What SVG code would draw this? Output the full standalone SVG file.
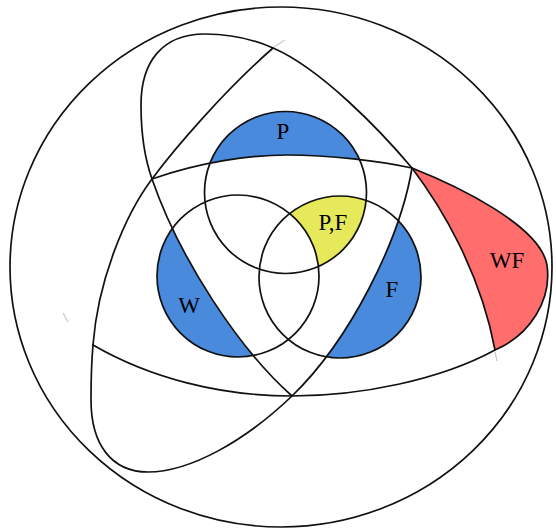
<svg xmlns="http://www.w3.org/2000/svg" width="556" height="528" viewBox="0 0 556 528">
<style>
.ln{fill:none;stroke:#111;stroke-width:1.7;stroke-linejoin:round;stroke-linecap:round}
.tick{fill:none;stroke:#c8c8c8;stroke-width:1.2}
.blue{fill:#4a8adc}
.lbl{font-family:"Liberation Serif","Times New Roman",serif;font-size:23px;fill:#000;text-anchor:middle}
</style>
<defs>
<clipPath id="abovePath"><path d="M100,185 L152,179 C200,162 250,155 287,155 C330,155 380,161 412,168 L440,0 L100,0 Z"/></clipPath>
<clipPath id="leftDiag"><path d="M292,396 C240,350 180,260 152,179 L100,100 L0,100 L0,500 L292,500 Z"/></clipPath>
<clipPath id="rightLine"><path d="M412,168 C400,240 350,340 292,396 L292,500 L556,500 L556,100 L412,100 Z"/></clipPath>
</defs>
<rect width="556" height="528" fill="#fff"/>
<g id="region-P"><circle class="blue" cx="285.5" cy="192.5" r="81" clip-path="url(#abovePath)"/><text class="lbl" x="283" y="139">P</text></g>
<g id="region-W"><circle class="blue" cx="238" cy="276" r="81" clip-path="url(#leftDiag)"/><text class="lbl" x="189" y="313">W</text></g>
<g id="region-F"><circle class="blue" cx="340" cy="277" r="81" clip-path="url(#rightLine)"/><text class="lbl" x="392" y="297">F</text></g>
<g id="region-PF"><path fill="#e6e95a" d="M289.6,213.6 A81,81 0 0,1 366.2,200.3 A81,81 0 0,1 318.4,266.5 A81,81 0 0,0 289.6,213.6 Z"/><text class="lbl" x="333" y="230">P,F</text></g>
<g id="region-WF"><path fill="#ff6d6d" d="M412,168 C455,185 540,225 547,265 C552,300 530,335 495,350 C480,270 440,205 412,168 Z"/><text class="lbl" x="507" y="268">WF</text></g>
<g id="connectors">
<ellipse class="ln" cx="281" cy="267" rx="271" ry="260"/>
<circle class="ln" cx="285.5" cy="192.5" r="81"/>
<circle class="ln" cx="238" cy="276" r="81"/>
<circle class="ln" cx="340" cy="277" r="81"/>
<path class="ln" d="M152,179 C200,162 250,155 287,155 C330,155 380,161 412,168 C455,185 540,225 547,265 C552,300 530,335 495,350 C440,380 360,396 292,396 C220,396 150,378 93,345"/>
<path class="ln" d="M292,396 C240,350 180,260 152,179 C146,162 141,135 141,105 C141,62 162,34 205,34 C230,34 255,40 273,48 C320,68 380,130 412,168 C440,205 480,270 495,350"/>
<path class="ln" d="M412,168 C400,240 350,340 292,396 C245,441 190,472 148,472 C112,472 91,445 91,400 C91,380 91.5,362 93,345 C98,280 125,215 152,179 C175,148 225,90 273,48"/>
<path class="tick" d="M274,47 L285,40 M63,313 L68,322 M495,352 L497,361"/>
</g>
</svg>
